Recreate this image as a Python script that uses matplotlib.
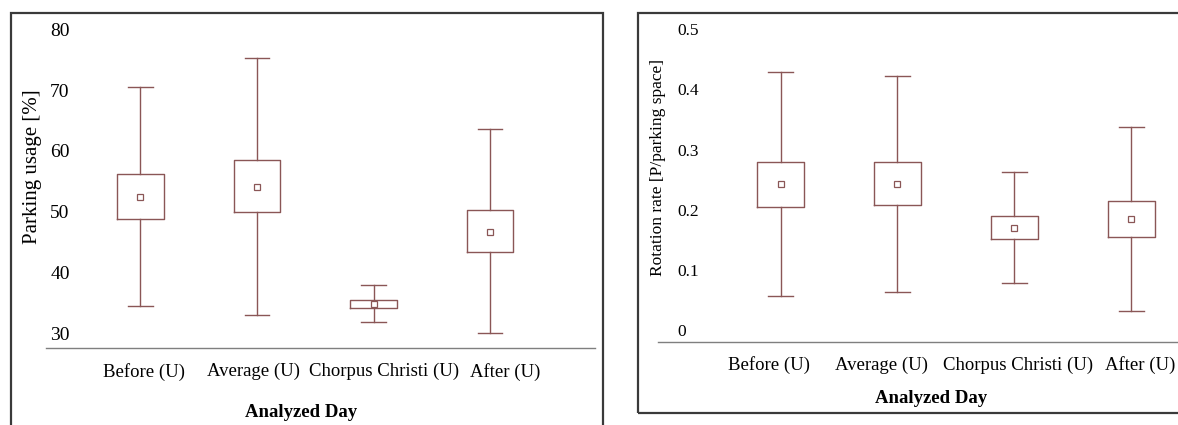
import matplotlib
matplotlib.use("Agg")
import matplotlib.pyplot as plt
from matplotlib.patches import Rectangle
from matplotlib.transforms import ScaledTranslation

plt.rcParams['font.family'] = ['Liberation Serif', 'DejaVu Serif']

# data
days = ['Before (U)', 'Average (U)', 'Chorpus Christi (U)', 'After (U)']

usage_low = [34.5, 33.0, 31.8, 30.0]
usage_q1 = [48.8, 49.9, 34.2, 43.3]
usage_mean = [52.4, 54.0, 34.8, 46.7]
usage_q3 = [56.2, 58.5, 35.4, 50.2]
usage_high = [70.5, 75.2, 38.0, 63.6]
usage_ticks = [30, 40, 50, 60, 70, 80]

rot_low = [0.056, 0.063, 0.078, 0.032]
rot_q1 = [0.205, 0.207, 0.152, 0.154]
rot_mean = [0.242, 0.243, 0.170, 0.184]
rot_q3 = [0.280, 0.280, 0.189, 0.215]
rot_high = [0.429, 0.423, 0.263, 0.337]
rot_ticks = [0, 0.1, 0.2, 0.3, 0.4, 0.5]
rot_tick_labels = ['0', '0.1', '0.2', '0.3', '0.4', '0.5']

BOX = '#8a5656'


def make_stats(low, q1, mean, q3, high):
    stats = []
    for lo, a, m, b, hi in zip(low, q1, mean, q3, high):
        stats.append(dict(whislo=lo, q1=a, med=m, mean=m, q3=b, whishi=hi, fliers=[]))
    return stats


def draw(ax, stats):
    ax.bxp(stats, positions=[1, 2, 3, 4], widths=0.4, capwidths=0.21,
           showmeans=True, showfliers=False,
           boxprops=dict(color=BOX, linewidth=1.0),
           whiskerprops=dict(color=BOX, linewidth=1.0),
           capprops=dict(color=BOX, linewidth=1.0),
           medianprops=dict(linewidth=0),
           meanprops=dict(marker='s', markersize=4, markerfacecolor='white',
                          markeredgecolor=BOX, markeredgewidth=0.9))
    for s in ['top', 'right', 'left']:
        ax.spines[s].set_visible(False)
    ax.spines['bottom'].set_color('#7f7f7f')
    ax.spines['bottom'].set_linewidth(1.0)
    ax.tick_params(axis='both', length=0)


def nudge_labels(fig, ax, shifts):
    # the category labels in the original are not quite centred on the boxes
    for lab, dx in zip(ax.get_xticklabels(), shifts):
        lab.set_transform(lab.get_transform() + ScaledTranslation(dx / 100, 0, fig.dpi_scale_trans))


fig = plt.figure(figsize=(11.78, 4.25), dpi=100)

# left panel: parking usage
ax1 = fig.add_axes([0.03905, 0.18047, 0.46604, 0.772])
draw(ax1, make_stats(usage_low, usage_q1, usage_mean, usage_q3, usage_high))
ax1.set_xlim(0.19, 4.9)
ax1.set_ylim(27.53, 81.5)
ax1.set_yticks(usage_ticks)
ax1.set_yticklabels([str(t) for t in usage_ticks], fontsize=14, ha='left')
ax1.tick_params(axis='y', pad=-3)
ax1.set_xticks([1, 2, 3, 4])
ax1.set_xticklabels(days, fontsize=13.5)
ax1.tick_params(axis='x', pad=10.5)
nudge_labels(fig, ax1, [4, -3, 11, 15])
ax1.set_xlabel('Analyzed Day', fontsize=13.5, fontweight='bold')
ax1.xaxis.set_label_coords(0.464, -0.195)
ax1.xaxis.label.set_va('center')
ax1.set_ylabel('Parking usage [%]', fontsize=15)
ax1.yaxis.set_label_coords(-0.025, 0.553)
ax1.yaxis.label.set_va('center')

# right panel: rotation rate
ax2 = fig.add_axes([0.55857, 0.196, 0.44143, 0.7565])
draw(ax2, make_stats(rot_low, rot_q1, rot_mean, rot_q3, rot_high))
ax2.set_xlim(-0.049, 4.40)
ax2.set_ylim(-0.0195, 0.5151)
ax2.set_yticks(rot_ticks)
ax2.set_yticklabels(rot_tick_labels, fontsize=12.5, ha='left')
ax2.tick_params(axis='y', pad=-14)
ax2.set_xticks([1, 2, 3, 4])
ax2.set_xticklabels(days, fontsize=13.5)
ax2.tick_params(axis='x', pad=10.5)
nudge_labels(fig, ax2, [-12, -16, 4, 9])
ax2.set_xlabel('Analyzed Day', fontsize=13.5, fontweight='bold')
ax2.xaxis.set_label_coords(0.525, -0.176)
ax2.xaxis.label.set_va('center')
ax2.set_ylabel('Rotation rate [P/parking space]', fontsize=12.5)
ax2.yaxis.set_label_coords(0.0, 0.542)
ax2.yaxis.label.set_va('center')

# panel frames
fig.add_artist(Rectangle((0.00908, -0.02), 0.50302, 0.99, transform=fig.transFigure,
                         fill=False, edgecolor='#3a3a3a', linewidth=1.6))
fig.add_artist(Rectangle((0.5416, 0.0282), 0.47, 0.9419, transform=fig.transFigure,
                         fill=False, edgecolor='#3a3a3a', linewidth=1.6))

fig.savefig('out.png', dpi=100)
